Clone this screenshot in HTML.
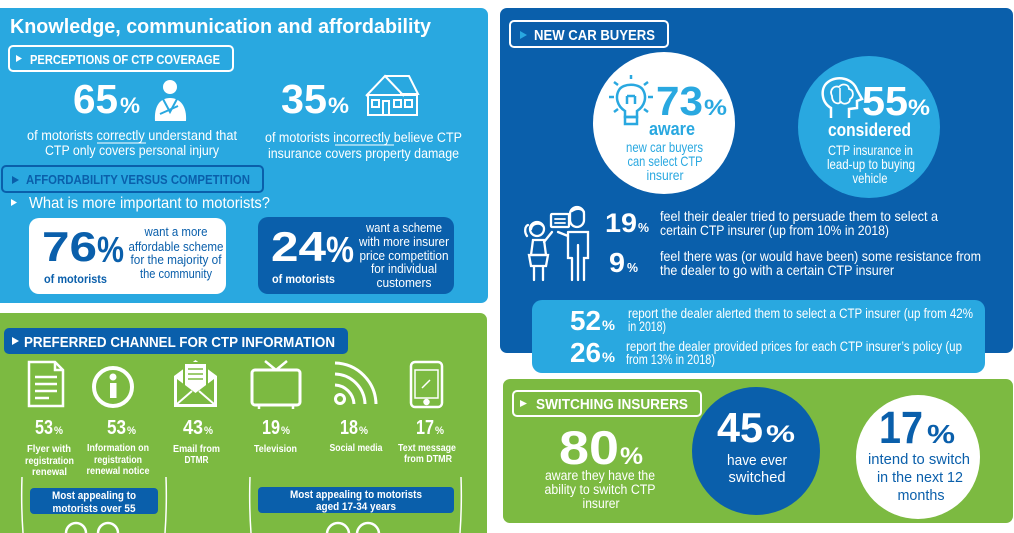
<!DOCTYPE html>
<html><head><meta charset="utf-8"><style>
html,body{margin:0;padding:0;background:#fff;width:1014px;height:533px;overflow:hidden}
svg{display:block}
text{font-family:"Liberation Sans",Arial,sans-serif}
.b{font-weight:bold}
</style></head><body>
<svg width="1014" height="533" viewBox="0 0 1014 533" xmlns="http://www.w3.org/2000/svg">
<rect width="1014" height="533" fill="#fff"/>

<!-- LEFT TOP PANEL -->
<rect x="-8" y="8" width="496" height="295" rx="7" fill="#29a8e0"/>
<text x="10" y="33" font-size="20" class="b" fill="#fff" textLength="421" lengthAdjust="spacingAndGlyphs">Knowledge, communication and affordability</text>

<rect x="9" y="46" width="224" height="25" rx="4" fill="none" stroke="#fff" stroke-width="2"/>
<polygon points="16,55 16,62 22,58.5" fill="#fff"/>
<text x="30" y="64" font-size="12.5" class="b" fill="#fff" textLength="190" lengthAdjust="spacingAndGlyphs">PERCEPTIONS OF CTP COVERAGE</text>

<text x="73" y="113" font-size="41" class="b" fill="#fff" textLength="45" lengthAdjust="spacingAndGlyphs">65</text>
<text x="120" y="113" font-size="22" class="b" fill="#fff" textLength="20" lengthAdjust="spacingAndGlyphs">%</text>
<circle cx="170" cy="87" r="7" fill="#fff"/>
<path d="M155,121 C154,106 160,98 170,98 C180,98 187,106 186,121 Z" fill="#fff"/>
<path d="M163,99 L170,112 L177,99" fill="none" stroke="#29a8e0" stroke-width="2"/>
<path d="M160,114 L178,106" stroke="#29a8e0" stroke-width="2"/>

<text x="27" y="140" font-size="13.5" fill="#fff" textLength="210" lengthAdjust="spacingAndGlyphs">of motorists correctly understand that</text>
<line x1="97" y1="143" x2="146" y2="143" stroke="#fff" stroke-width="1"/>
<text x="45" y="155" font-size="13.5" fill="#fff" textLength="174" lengthAdjust="spacingAndGlyphs">CTP only covers personal injury</text>

<text x="281" y="113" font-size="41" class="b" fill="#fff" textLength="46" lengthAdjust="spacingAndGlyphs">35</text>
<text x="328" y="113" font-size="22" class="b" fill="#fff" textLength="21" lengthAdjust="spacingAndGlyphs">%</text>
<g fill="none" stroke="#fff" stroke-width="2">
<path d="M366,96 L385,76 L404,96"/>
<path d="M385,76 H409 L418,94 H400"/>
<rect x="368" y="95" width="49" height="20"/>
<rect x="372" y="100" width="7" height="7"/>
<rect x="383" y="101" width="6" height="14"/>
<rect x="394" y="100" width="7" height="7"/>
<rect x="405" y="100" width="7" height="7"/>
</g>
<text x="265" y="142" font-size="13.5" fill="#fff" textLength="197" lengthAdjust="spacingAndGlyphs">of motorists incorrectly believe CTP</text>
<line x1="335" y1="145" x2="394" y2="145" stroke="#fff" stroke-width="1"/>
<text x="268" y="158" font-size="13.5" fill="#fff" textLength="191" lengthAdjust="spacingAndGlyphs">insurance covers property damage</text>

<rect x="2" y="166" width="261" height="26" rx="4" fill="none" stroke="#0a5fab" stroke-width="2"/>
<polygon points="12,176 12,184 19,180" fill="#0a5fab"/>
<text x="26" y="184" font-size="12.5" class="b" fill="#0a5fab" textLength="224" lengthAdjust="spacingAndGlyphs">AFFORDABILITY VERSUS COMPETITION</text>

<polygon points="11,199 11,206 17,202.5" fill="#fff"/>
<text x="29" y="208" font-size="16" fill="#fff" textLength="241" lengthAdjust="spacingAndGlyphs">What is more important to motorists?</text>

<rect x="29" y="218" width="197" height="76" rx="10" fill="#fff"/>
<text x="42" y="261" font-size="42" class="b" fill="#0a5fab" textLength="55" lengthAdjust="spacingAndGlyphs">76</text>
<text x="97" y="262" font-size="36" class="b" fill="#0a5fab" textLength="27" lengthAdjust="spacingAndGlyphs">%</text>
<text x="44" y="283" font-size="12" class="b" fill="#0a5fab" textLength="63" lengthAdjust="spacingAndGlyphs">of motorists</text>
<g font-size="13" fill="#0a5fab" text-anchor="middle">
<text x="176" y="236" textLength="63" lengthAdjust="spacingAndGlyphs">want a more</text>
<text x="176" y="251" textLength="95" lengthAdjust="spacingAndGlyphs">affordable scheme</text>
<text x="176" y="264" textLength="91" lengthAdjust="spacingAndGlyphs">for the majority of</text>
<text x="176" y="278" textLength="72" lengthAdjust="spacingAndGlyphs">the community</text>
</g>

<rect x="258" y="217" width="196" height="77" rx="10" fill="#0a5fab"/>
<text x="271" y="261" font-size="42" class="b" fill="#fff" textLength="55" lengthAdjust="spacingAndGlyphs">24</text>
<text x="326" y="262" font-size="36" class="b" fill="#fff" textLength="28" lengthAdjust="spacingAndGlyphs">%</text>
<text x="272" y="283" font-size="12" class="b" fill="#fff" textLength="63" lengthAdjust="spacingAndGlyphs">of motorists</text>
<g font-size="13" fill="#fff" text-anchor="middle">
<text x="404" y="232" textLength="76" lengthAdjust="spacingAndGlyphs">want a scheme</text>
<text x="404" y="246" textLength="90" lengthAdjust="spacingAndGlyphs">with more insurer</text>
<text x="404" y="260" textLength="89" lengthAdjust="spacingAndGlyphs">price competition</text>
<text x="404" y="273" textLength="66" lengthAdjust="spacingAndGlyphs">for individual</text>
<text x="404" y="287" textLength="55" lengthAdjust="spacingAndGlyphs">customers</text>
</g>

<!-- LEFT GREEN PANEL -->
<rect x="-8" y="313" width="495" height="240" rx="7" fill="#7cba41"/>
<rect x="4" y="328" width="344" height="26" rx="5" fill="#0a5fab"/>
<polygon points="12,337 12,345 19,341" fill="#fff"/>
<text x="24" y="347" font-size="15" class="b" fill="#fff" textLength="311" lengthAdjust="spacingAndGlyphs">PREFERRED CHANNEL FOR CTP INFORMATION</text>

<g fill="none" stroke="#fff" stroke-width="2.5">
<path d="M29,362 H55 L63,370 V406 H29 Z"/>
<path d="M55,362 V370 H63"/>
<line x1="35" y1="377" x2="57" y2="377"/><line x1="35" y1="384" x2="57" y2="384"/><line x1="35" y1="391" x2="57" y2="391"/><line x1="35" y1="398" x2="49" y2="398"/>
<circle cx="113" cy="387" r="19" stroke-width="4"/>
<rect x="252" y="370" width="48" height="35" rx="3" stroke-width="3"/>
<line x1="265" y1="361" x2="276" y2="370"/><line x1="287" y1="361" x2="276" y2="370"/>
<line x1="259" y1="405" x2="259" y2="409"/><line x1="293" y1="405" x2="293" y2="409"/>
<circle cx="340" cy="399" r="4.5" stroke-width="3"/>
<path d="M335,385 A20,20 0 0 1 354,404" stroke-width="3"/>
<path d="M335,374 A31,31 0 0 1 365,404" stroke-width="3"/>
<path d="M335,363 A42,42 0 0 1 376,404" stroke-width="3"/>
<rect x="411" y="362" width="31" height="45" rx="4"/>
<rect x="415" y="370" width="23" height="28" stroke-width="1.5"/>
<circle cx="426.5" cy="402" r="2" fill="#fff"/>
<line x1="422" y1="388" x2="430" y2="380" stroke-width="1.5"/>
</g>
<circle cx="113" cy="377" r="3.5" fill="#fff"/>
<rect x="110" y="383" width="6.5" height="15" fill="#fff"/>
<path d="M174,376 L195.5,360 L217,376 V407 H174 Z" fill="#fff"/>
<rect x="183" y="362" width="25" height="24" fill="#7cba41"/>
<rect x="185" y="364" width="21" height="22" fill="#fff"/>
<line x1="188" y1="369" x2="203" y2="369" stroke="#7cba41" stroke-width="1.5"/>
<line x1="188" y1="374" x2="203" y2="374" stroke="#7cba41" stroke-width="1.5"/>
<line x1="188" y1="379" x2="203" y2="379" stroke="#7cba41" stroke-width="1.5"/>
<path d="M177,379 L195.5,393 L214,379 V404 H177 Z" fill="#7cba41"/>
<path d="M177,404 L192,391 M214,404 L199,391" stroke="#fff" stroke-width="2"/>

<g class="b" fill="#fff">
<text x="35" y="434" font-size="20" textLength="18" lengthAdjust="spacingAndGlyphs">53</text><text x="54" y="434" font-size="11" textLength="9" lengthAdjust="spacingAndGlyphs">%</text>
<text x="107" y="434" font-size="20" textLength="19" lengthAdjust="spacingAndGlyphs">53</text><text x="127" y="434" font-size="11" textLength="9" lengthAdjust="spacingAndGlyphs">%</text>
<text x="183" y="434" font-size="20" textLength="20" lengthAdjust="spacingAndGlyphs">43</text><text x="204" y="434" font-size="11" textLength="9" lengthAdjust="spacingAndGlyphs">%</text>
<text x="262" y="434" font-size="20" textLength="18" lengthAdjust="spacingAndGlyphs">19</text><text x="281" y="434" font-size="11" textLength="9" lengthAdjust="spacingAndGlyphs">%</text>
<text x="340" y="434" font-size="20" textLength="18" lengthAdjust="spacingAndGlyphs">18</text><text x="359" y="434" font-size="11" textLength="9" lengthAdjust="spacingAndGlyphs">%</text>
<text x="416" y="434" font-size="20" textLength="18" lengthAdjust="spacingAndGlyphs">17</text><text x="435" y="434" font-size="11" textLength="9" lengthAdjust="spacingAndGlyphs">%</text>
</g>
<g class="b" fill="#fff" font-size="10.5" text-anchor="middle">
<text x="49" y="452" textLength="44" lengthAdjust="spacingAndGlyphs">Flyer with</text>
<text x="49.5" y="464" textLength="49" lengthAdjust="spacingAndGlyphs">registration</text>
<text x="49.5" y="475" textLength="35" lengthAdjust="spacingAndGlyphs">renewal</text>
<text x="118" y="451" textLength="62" lengthAdjust="spacingAndGlyphs">Information on</text>
<text x="118" y="463" textLength="48" lengthAdjust="spacingAndGlyphs">registration</text>
<text x="118" y="474" textLength="63" lengthAdjust="spacingAndGlyphs">renewal notice</text>
<text x="196.5" y="452" textLength="47" lengthAdjust="spacingAndGlyphs">Email from</text>
<text x="196.5" y="463" textLength="24" lengthAdjust="spacingAndGlyphs">DTMR</text>
<text x="275.5" y="452" textLength="43" lengthAdjust="spacingAndGlyphs">Television</text>
<text x="356" y="451" textLength="53" lengthAdjust="spacingAndGlyphs">Social media</text>
<text x="427" y="451" textLength="58" lengthAdjust="spacingAndGlyphs">Text message</text>
<text x="428" y="462" textLength="48" lengthAdjust="spacingAndGlyphs">from DTMR</text>
</g>
<g stroke="#fff" stroke-width="1.5" fill="none">
<path d="M22,477 Q21,505 23,533"/>
<path d="M166,477 Q167,505 165,533"/>
<path d="M250,477 Q249,505 251,533"/>
<path d="M461,477 Q462,505 460,533"/>
</g>
<rect x="30" y="488" width="128" height="26" rx="4" fill="#0a5fab"/>
<g class="b" fill="#fff" font-size="11" text-anchor="middle">
<text x="94" y="499" textLength="84" lengthAdjust="spacingAndGlyphs">Most appealing to</text>
<text x="94" y="512" textLength="83" lengthAdjust="spacingAndGlyphs">motorists over 55</text>
</g>
<rect x="258" y="487" width="196" height="26" rx="4" fill="#0a5fab"/>
<g class="b" fill="#fff" font-size="11" text-anchor="middle">
<text x="356" y="498" textLength="132" lengthAdjust="spacingAndGlyphs">Most appealing to motorists</text>
<text x="356" y="510" textLength="80" lengthAdjust="spacingAndGlyphs">aged 17-34 years</text>
</g>
<g fill="none" stroke="#fff" stroke-width="2.5">
<circle cx="76" cy="533" r="10"/><circle cx="108" cy="533" r="10"/>
<circle cx="338" cy="534" r="11"/><circle cx="368" cy="534" r="11"/>
</g>

<!-- RIGHT BLUE PANEL -->
<rect x="500" y="8" width="513" height="345" rx="7" fill="#0a5fab"/>
<rect x="510" y="21" width="158" height="26" rx="4" fill="none" stroke="#fff" stroke-width="2"/>
<polygon points="520,31 520,39 527,35" fill="#29a8e0"/>
<text x="534" y="40" font-size="14.5" class="b" fill="#fff" textLength="121" lengthAdjust="spacingAndGlyphs">NEW CAR BUYERS</text>

<circle cx="664" cy="123" r="71" fill="#fff"/>
<g fill="none" stroke="#29a8e0" stroke-width="2.5">
<path d="M625,117 V111 C617,106 615,97 619,90 C623,83 639,83 643,90 C647,97 645,106 637,111 V117 Z"/>
<rect x="625" y="117" width="12" height="7"/>
<path d="M627,104 V96 M635,104 V96 M627,96 H635"/>
<line x1="609" y1="97" x2="614" y2="97"/><line x1="648" y1="97" x2="653" y2="97"/>
<line x1="614" y1="82" x2="618" y2="85"/><line x1="648" y1="82" x2="644" y2="85"/>
<line x1="631" y1="75" x2="631" y2="79"/>
<line x1="614" y1="112" x2="618" y2="109"/><line x1="648" y1="112" x2="644" y2="109"/>
</g>
<text x="656" y="115" font-size="41" class="b" fill="#29a8e0" textLength="47" lengthAdjust="spacingAndGlyphs">73</text>
<text x="704" y="115" font-size="22" class="b" fill="#29a8e0" textLength="23" lengthAdjust="spacingAndGlyphs">%</text>
<text x="672" y="135" font-size="18" class="b" fill="#29a8e0" text-anchor="middle" textLength="46" lengthAdjust="spacingAndGlyphs">aware</text>
<g font-size="14" fill="#29a8e0" text-anchor="middle">
<text x="664.5" y="152" textLength="77" lengthAdjust="spacingAndGlyphs">new car buyers</text>
<text x="665" y="166" textLength="75" lengthAdjust="spacingAndGlyphs">can select CTP</text>
<text x="665" y="180" textLength="37" lengthAdjust="spacingAndGlyphs">insurer</text>
</g>

<circle cx="869" cy="127" r="71" fill="#29a8e0"/>
<g fill="none" stroke="#fff" stroke-width="2.5">
<path d="M831,118 V108 C821,102 820,88 828,82 C837,75 853,78 857,90 L862,99 L857,101 V108 L849,109 V118"/>
<path d="M832,96 C829,90 834,85 839,87 C842,83 849,84 849,89 C854,90 854,97 850,99 C850,104 843,105 841,102 C838,105 832,103 832,96 Z" stroke-width="1.8"/>
<path d="M840,88 V103" stroke-width="1.5"/>
</g>
<text x="862" y="115" font-size="41" class="b" fill="#fff" textLength="46" lengthAdjust="spacingAndGlyphs">55</text>
<text x="908" y="115" font-size="22" class="b" fill="#fff" textLength="22" lengthAdjust="spacingAndGlyphs">%</text>
<text x="869.5" y="136" font-size="18" class="b" fill="#fff" text-anchor="middle" textLength="83" lengthAdjust="spacingAndGlyphs">considered</text>
<g font-size="14" fill="#fff" text-anchor="middle">
<text x="870.5" y="155" textLength="85" lengthAdjust="spacingAndGlyphs">CTP insurance in</text>
<text x="871" y="169" textLength="88" lengthAdjust="spacingAndGlyphs">lead-up to buying</text>
<text x="870" y="183" textLength="35" lengthAdjust="spacingAndGlyphs">vehicle</text>
</g>

<g fill="none" stroke="#fff" stroke-width="2.3" stroke-linecap="round">
<circle cx="537" cy="229" r="7"/>
<path d="M531,229 C532,223 540,222 543,226"/>
<path d="M527,236 C524,232 525,226 528,225"/>
<path d="M533,240 H544 L546,255 H531 Z"/>
<path d="M529,255 H548 L546,266 H531 Z"/>
<line x1="534" y1="266" x2="534" y2="280"/><line x1="543" y1="266" x2="543" y2="280"/>
<path d="M544,242 L552,232"/>
<rect x="551" y="214" width="18" height="13" rx="1"/>
<line x1="555" y1="219" x2="565" y2="219" stroke-width="1.8"/>
<line x1="555" y1="223" x2="565" y2="223" stroke-width="1.8"/>
<rect x="570" y="207" width="14" height="20" rx="7"/>
<path d="M572,211 C576,208 582,208 584,212"/>
<path d="M568,232 H588 V258 H584 V280 M572,258 V280 M568,232 V258 H572 M578,245 V280"/>
<path d="M568,236 L558,232"/>
</g>
<text x="605" y="232" font-size="27" class="b" fill="#fff" textLength="32" lengthAdjust="spacingAndGlyphs">19</text>
<text x="638" y="232" font-size="13" class="b" fill="#fff" textLength="11" lengthAdjust="spacingAndGlyphs">%</text>
<text x="609" y="272" font-size="28" class="b" fill="#fff" textLength="16" lengthAdjust="spacingAndGlyphs">9</text>
<text x="627" y="272" font-size="13" class="b" fill="#fff" textLength="11" lengthAdjust="spacingAndGlyphs">%</text>
<g font-size="14" fill="#fff">
<text x="660" y="221" textLength="278" lengthAdjust="spacingAndGlyphs">feel their dealer tried to persuade them to select a</text>
<text x="660" y="235" textLength="229" lengthAdjust="spacingAndGlyphs">certain CTP insurer (up from 10% in 2018)</text>
<text x="660" y="261" textLength="321" lengthAdjust="spacingAndGlyphs">feel there was (or would have been) some resistance from</text>
<text x="660" y="275" textLength="234" lengthAdjust="spacingAndGlyphs">the dealer to go with a certain CTP insurer</text>
</g>

<rect x="532" y="300" width="453" height="73" rx="10" fill="#29a8e0"/>
<text x="570" y="330" font-size="28" class="b" fill="#fff" textLength="31" lengthAdjust="spacingAndGlyphs">52</text>
<text x="602" y="330" font-size="14" class="b" fill="#fff" textLength="13" lengthAdjust="spacingAndGlyphs">%</text>
<text x="570" y="362" font-size="28" class="b" fill="#fff" textLength="31" lengthAdjust="spacingAndGlyphs">26</text>
<text x="602" y="362" font-size="14" class="b" fill="#fff" textLength="13" lengthAdjust="spacingAndGlyphs">%</text>
<g font-size="13.5" fill="#fff">
<text x="628" y="318" textLength="345" lengthAdjust="spacingAndGlyphs">report the dealer alerted them to select a CTP insurer (up from 42%</text>
<text x="628" y="331" textLength="38" lengthAdjust="spacingAndGlyphs">in 2018)</text>
<text x="626" y="351" textLength="336" lengthAdjust="spacingAndGlyphs">report the dealer provided prices for each CTP insurer’s policy (up</text>
<text x="626" y="364" textLength="89" lengthAdjust="spacingAndGlyphs">from 13% in 2018)</text>
</g>

<!-- RIGHT GREEN PANEL -->
<rect x="503" y="379" width="510" height="144" rx="7" fill="#7cba41"/>
<rect x="513" y="391" width="188" height="25" rx="4" fill="none" stroke="#fff" stroke-width="2"/>
<polygon points="520,400 520,407 527,403.5" fill="#fff"/>
<text x="536" y="409" font-size="14.5" class="b" fill="#fff" textLength="152" lengthAdjust="spacingAndGlyphs">SWITCHING INSURERS</text>

<text x="559" y="464" font-size="47" class="b" fill="#fff" textLength="60" lengthAdjust="spacingAndGlyphs">80</text>
<text x="620" y="464" font-size="24" class="b" fill="#fff" textLength="23" lengthAdjust="spacingAndGlyphs">%</text>
<g font-size="13.5" fill="#fff" text-anchor="middle">
<text x="600" y="480" textLength="110" lengthAdjust="spacingAndGlyphs">aware they have the</text>
<text x="600" y="494" textLength="111" lengthAdjust="spacingAndGlyphs">ability to switch CTP</text>
<text x="601" y="508" textLength="37" lengthAdjust="spacingAndGlyphs">insurer</text>
</g>

<circle cx="756" cy="451" r="64" fill="#0a5fab"/>
<text x="717" y="442" font-size="42" class="b" fill="#fff" textLength="46" lengthAdjust="spacingAndGlyphs">45</text>
<text x="766" y="442" font-size="24" class="b" fill="#fff" textLength="29" lengthAdjust="spacingAndGlyphs">%</text>
<g font-size="15" fill="#fff" text-anchor="middle">
<text x="757" y="465" textLength="60" lengthAdjust="spacingAndGlyphs">have ever</text>
<text x="757" y="482" textLength="57" lengthAdjust="spacingAndGlyphs">switched</text>
</g>

<circle cx="918" cy="457" r="62" fill="#fff"/>
<text x="879" y="443" font-size="45" class="b" fill="#0a5fab" textLength="44" lengthAdjust="spacingAndGlyphs">17</text>
<text x="927" y="443" font-size="26" class="b" fill="#0a5fab" textLength="28" lengthAdjust="spacingAndGlyphs">%</text>
<g font-size="15" fill="#0a5fab" text-anchor="middle">
<text x="919" y="464" textLength="102" lengthAdjust="spacingAndGlyphs">intend to switch</text>
<text x="920" y="482" textLength="86" lengthAdjust="spacingAndGlyphs">in the next 12</text>
<text x="921" y="500" textLength="47" lengthAdjust="spacingAndGlyphs">months</text>
</g>
</svg>
</body></html>
